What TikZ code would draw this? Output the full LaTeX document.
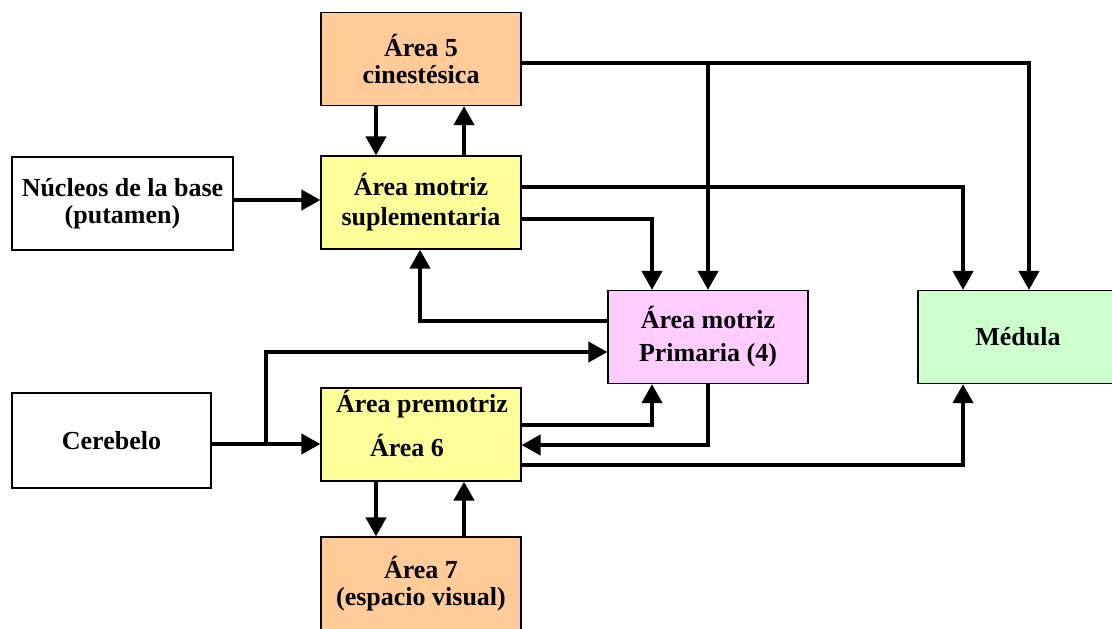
\documentclass[tikz,border=0pt]{standalone}
\usepackage{fontspec}
\setmainfont{Liberation Serif}
\usepackage{tikz}
\usetikzlibrary{arrows.meta}
\definecolor{peach}{HTML}{FFCC99}
\definecolor{paleyellow}{HTML}{FFFF99}
\definecolor{palepink}{HTML}{FFCCFF}
\definecolor{palegreen}{HTML}{CCFFCC}

\begin{document}
\begin{tikzpicture}[x=0.5pt, y=-0.5pt,
    every node/.style={font=\bfseries\fontsize{13}{13.5}\selectfont},
    box/.style={draw, line width=0.6pt, minimum width=100pt, minimum height=46.5pt,
      inner sep=0pt, align=center},
    arr/.style={-{Triangle[width=10pt, length=9.5pt]}, line width=2.1pt}]
      \useasboundingbox (0,0) rectangle (1112,628);
      % nodes
      \node[box, fill=peach] (area5) at (421,59) {Área 5\\cinestésica};
      \node[box, fill=paleyellow] (ams) at (421,202.5) {Área motriz\\[1.5pt]suplementaria};
      \node[box, minimum width=110.5pt] (nucleos) at (122.5,203.5) {Núcleos de la base\\(putamen)};
      \node[box, fill=palepink] (amp) at (708,337) {Área motriz\\[3pt]Primaria (4)};
      \node[box, fill=palegreen] (medula) at (1018,337) {Médula};
      \node[box, minimum width=99.5pt, minimum height=47.5pt] (cerebelo) at (111.5,440.5) {Cerebelo};
      \node[box, fill=paleyellow] (apm) at (421,434.5) {};
      \node[anchor=base] (apmtop) at (422,412) {Área premotriz};
      \node[anchor=base] (apmbot) at (407,456) {Área 6};
      \node[box, fill=peach] (area7) at (421,583.5) {Área 7\\(espacio visual)};
      % columns and rows of the connectors
      \coordinate (xa) at (376,0);
      \coordinate (xb) at (464,0);
      \coordinate (xc) at (652,0);
      \coordinate (xd) at (708,0);
      \coordinate (xe) at (963,0);
      \coordinate (xf) at (1029,0);
      \coordinate (xg) at (420,0);
      \coordinate (xh) at (266,0);
      \coordinate (r0) at (0,200);
      \coordinate (r1) at (0,63);
      \coordinate (r2) at (0,187);
      \coordinate (r3) at (0,219);
      \coordinate (r4) at (0,321);
      \coordinate (r5) at (0,352);
      \coordinate (r6) at (0,425);
      \coordinate (r7) at (0,445);
      \coordinate (r8) at (0,465);
      \coordinate (r9) at (0,444);
      % area 5 <-> suplementaria
      \draw[arr] (area5.south -| xa) -- (ams.north -| xa);
      \draw[arr] (ams.north -| xb) -- (area5.south -| xb);
      \draw[arr] (nucleos.east |- r0) -- (ams.west |- r0);
      % outputs to the right
      \draw[arr] (area5.east |- r1) -| (medula.north -| xf);
      \draw[arr] (xd |- r1) -- (amp.north -| xd);
      \draw[arr] (ams.east |- r2) -| (medula.north -| xe);
      \draw[arr] (ams.east |- r3) -| (amp.north -| xc);
      \draw[arr] (amp.west |- r4) -| (ams.south -| xg);
      % cerebelo
      \draw[arr] (cerebelo.east |- r9) -- (apm.west |- r9);
      \draw[arr] (xh |- r9) |- (amp.west |- r5);
      % premotriz <-> primaria, medula
      \draw[arr] (apm.east |- r6) -| (amp.south -| xc);
      \draw[arr] (amp.south -| xd) |- (apm.east |- r7);
      \draw[arr] (apm.east |- r8) -| (medula.south -| xe);
      % premotriz <-> area 7
      \draw[arr] (apm.south -| xa) -- (area7.north -| xa);
      \draw[arr] (area7.north -| xb) -- (apm.south -| xb);
    \end{tikzpicture}
\end{document}
